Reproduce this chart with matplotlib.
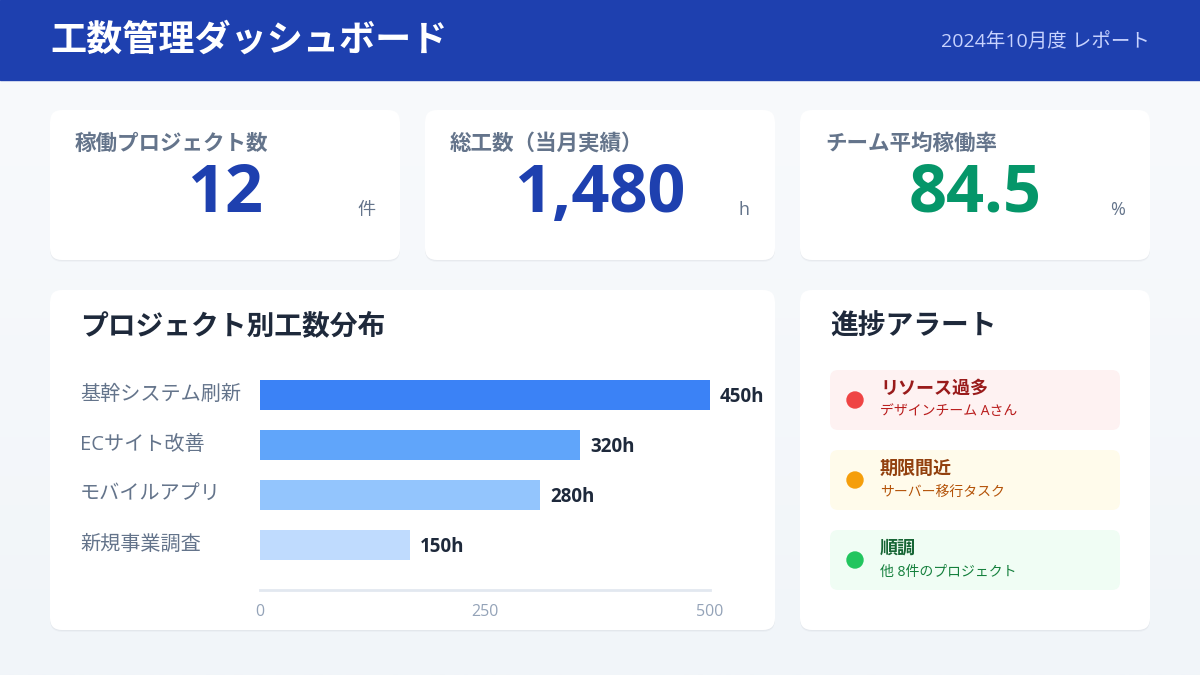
import matplotlib.pyplot as plt
import matplotlib.transforms as mtransforms
from matplotlib.colors import LinearSegmentedColormap
from matplotlib.patches import FancyBboxPatch, Rectangle, Circle
import numpy as np

plt.rcParams['font.family'] = ['Open Sans', 'Noto Sans CJK JP', 'DejaVu Sans']

# ------------- Data ------------- #
title = '工数管理ダッシュボード'
report_label = '2024年10月度 レポート'

kpi_labels = ['稼働プロジェクト数', '総工数（当月実績）', 'チーム平均稼働率']
kpi_values = ['12', '1,480', '84.5']
kpi_units = ['件', 'h', '%']
kpi_colors = ['#1e40af', '#1e40af', '#059669']

projects = ['基幹システム刷新', 'ECサイト改善', 'モバイルアプリ', '新規事業調査']
hours = [450, 320, 280, 150]
bar_colors = ['#3b82f6', '#60a5fa', '#93c5fd', '#bfdbfe']
tick_pos = [0, 225, 450]
tick_labels = ['0', '250', '500']

alert_titles = ['リソース過多', '期限間近', '順調']
alert_notes = ['デザインチーム Aさん', 'サーバー移行タスク', '他 8件のプロジェクト']
alert_bg = ['#fef2f2', '#fffbeb', '#f0fdf4']
alert_dot = ['#ef4444', '#f59e0b', '#22c55e']
alert_title_c = ['#991b1b', '#92400e', '#166534']
alert_note_c = ['#b91c1c', '#b45309', '#15803d']

# ------------- Canvas (pixel coords) ------------- #
fig = plt.figure(figsize=(12, 6.75), dpi=100)
bg = fig.add_axes([0, 0, 1, 1])
bg.set_xlim(0, 1200)
bg.set_ylim(675, 0)
bg.axis('off')

grad = np.linspace(0, 1, 256).reshape(-1, 1)
bg.imshow(grad, extent=[0, 1200, 675, 80], aspect='auto', zorder=0,
          cmap=LinearSegmentedColormap.from_list('g', ['#f8fafc', '#f1f5f9']))

bg.add_patch(Rectangle((0, 0), 1200, 80, color='#1e40af', zorder=1))
bg.text(50, 42, title, color='white', fontsize=26, fontweight='bold', va='center', ha='left', zorder=2)
bg.text(1150, 41, report_label, color='#c7d2fe', fontsize=14, va='center', ha='right', zorder=2)


def card(x, y, w, h):
    for k, a in [(4, 0.025), (2, 0.035)]:
        bg.add_patch(FancyBboxPatch((x, y + k / 2), w, h, boxstyle='round,pad=0,rounding_size=12',
                                    fc='#0f172a', ec='none', alpha=a, zorder=1))
    bg.add_patch(FancyBboxPatch((x, y), w, h, boxstyle='round,pad=0,rounding_size=12',
                                fc='white', ec='none', zorder=2))


# KPI cards
for i in range(3):
    x0 = 50 + i * 375
    card(x0, 110, 350, 150)
    bg.text(x0 + 25, 144, kpi_labels[i], color='#64748b', fontsize=15.5, fontweight='bold',
            va='center', ha='left', zorder=3)
    bg.text(x0 + 175, 212, kpi_values[i], color=kpi_colors[i], fontsize=48, fontweight='bold',
            va='baseline', ha='center', zorder=3)
    bg.text(x0 + 325, 215, kpi_units[i], color='#64748b', fontsize=13,
            va='baseline', ha='right', zorder=3)

# Chart card + alert card
card(50, 290, 725, 340)
card(800, 290, 350, 340)
bg.text(80, 327, 'プロジェクト別工数分布', color='#1e293b', fontsize=20, fontweight='bold',
        va='center', ha='left', zorder=3)
bg.text(830, 327, '進捗アラート', color='#1e293b', fontsize=20, fontweight='bold',
        va='center', ha='left', zorder=3)

# ------------- Bar chart ------------- #
ax = fig.add_axes([260 / 1200, 1 - 590 / 675, 450 / 1200, 220 / 675])
ax.set_facecolor('none')
ypos = np.arange(len(projects))
ax.barh(ypos, hours, height=0.6, color=bar_colors, zorder=3)
ax.set_xlim(0, 450)
ax.set_ylim(3.9, -0.5)
for s in ['top', 'right', 'left']:
    ax.spines[s].set_visible(False)
ax.spines['bottom'].set_color('#e2e8f0')
ax.spines['bottom'].set_linewidth(2)
ax.set_yticks([])
ax.set_xticks(tick_pos)
ax.set_xticklabels(tick_labels, color='#94a3b8', fontsize=11.5)
ax.tick_params(axis='x', length=0, pad=10)

lab_tr = mtransforms.blended_transform_factory(fig.transFigure, ax.transData)
for i, (p, v) in enumerate(zip(projects, hours)):
    ax.text(80 / 1200, i - 0.01, p, transform=lab_tr, color='#64748b', fontsize=14.5,
            va='center', ha='left')
    ax.annotate(f'{v}h', (v, i), xytext=(10, -2), textcoords='offset pixels', color='#1e293b',
                fontsize=13.5, fontweight='bold', va='center', ha='left', annotation_clip=False)

# ------------- Alerts ------------- #
for i in range(3):
    y0 = 370 + i * 80
    bg.add_patch(FancyBboxPatch((830, y0), 290, 60, boxstyle='round,pad=0,rounding_size=8',
                                fc=alert_bg[i], ec='none', zorder=3))
    bg.add_patch(Circle((855, y0 + 30), 8, color=alert_dot[i], zorder=4))
    bg.text(880, y0 + 19, alert_titles[i], color=alert_title_c[i], fontsize=13, fontweight='bold',
            va='center', ha='left', zorder=4)
    bg.text(880, y0 + 42, alert_notes[i], color=alert_note_c[i], fontsize=10,
            va='center', ha='left', zorder=4)

fig.savefig('out.png', dpi=100)
